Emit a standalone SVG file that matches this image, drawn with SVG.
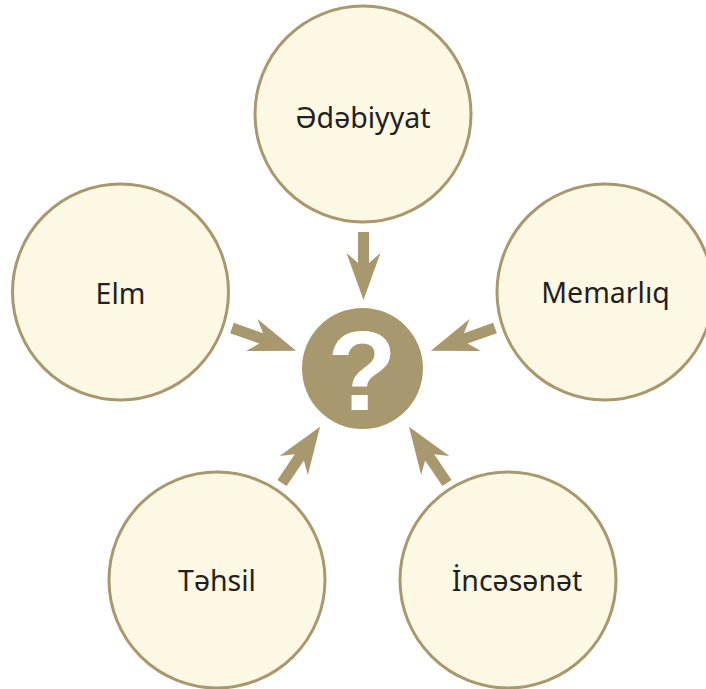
<svg xmlns="http://www.w3.org/2000/svg" width="706" height="689" viewBox="0 0 706 689">
<style>
.node circle{fill:#FDF8E3;stroke:#A8986E;stroke-width:3}
.node text{font-family:"Noto Sans","Open Sans","DejaVu Sans",sans-serif;font-size:28.5px;fill:#231F20;text-anchor:middle}
.arrow{fill:#A8986E}
</style>
<defs>
<polygon id="arr" points="0,-5.5 31,-5.5 21,-17 68,0 21,17 31,5.5 0,5.5"/>
</defs>
<rect width="706" height="689" fill="#ffffff"/>
<g id="node-edebiyyat" class="node"><circle cx="363" cy="114" r="108"/><text x="363" y="128">Ədəbiyyat</text></g>
<g id="node-elm" class="node"><circle cx="120.5" cy="292" r="108"/><text x="120.5" y="304">Elm</text></g>
<g id="node-memarliq" class="node"><circle cx="605" cy="292" r="108"/><text x="605.5" y="303">Memarlıq</text></g>
<g id="node-tehsil" class="node"><circle cx="217" cy="580" r="108"/><text x="217" y="591">Təhsil</text></g>
<g id="node-incesenet" class="node"><circle cx="508" cy="580" r="108"/><text x="517" y="591">İncəsənət</text></g>
<g id="node-center"><circle cx="362.5" cy="368.5" r="60.5" fill="#A8986E"/><text x="362" y="410" font-family="'Liberation Sans',Arial,sans-serif" font-weight="bold" font-size="114" fill="#ffffff" text-anchor="middle">?</text></g>
<g id="connectors" class="arrow">
<use href="#arr" transform="translate(363.5,232) rotate(90)"/>
<use href="#arr" transform="translate(232,328) rotate(19.5)"/>
<use href="#arr" transform="translate(495,328) rotate(160.5)"/>
<use href="#arr" transform="translate(282,483) rotate(-56)"/>
<use href="#arr" transform="translate(447,483) rotate(-124)"/>
</g>
</svg>
